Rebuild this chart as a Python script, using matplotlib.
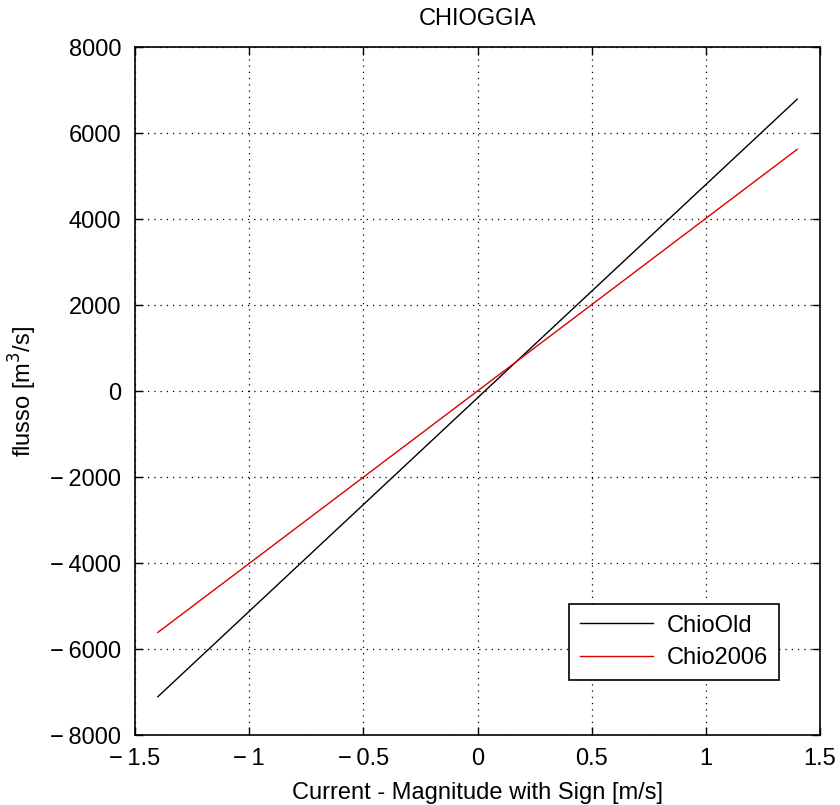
import matplotlib
matplotlib.use("Agg")
import matplotlib.pyplot as plt
from matplotlib.ticker import FuncFormatter

# Data
x = [-1.4, 0.0, 1.4]
chio_old = [-7110, -160, 6785]
chio_2006 = [-5615, 0, 5620]

xticks = [-1.5, -1, -0.5, 0, 0.5, 1, 1.5]
yticks = [-8000, -6000, -4000, -2000, 0, 2000, 4000, 6000, 8000]

plt.rcParams['font.family'] = ['Liberation Sans', 'DejaVu Sans']
FS = 17

fig = plt.figure(figsize=(8.4, 8.05), dpi=100)
ax = fig.add_axes([135/840, 70/805, 685/840, 688/805])

ax.plot(x, chio_old, color='black', lw=1.0, label='ChioOld')
ax.plot(x, chio_2006, color='#dd0000', lw=1.0, label='Chio2006')

ax.set_xlim(-1.5, 1.5)
ax.set_ylim(-8000, 8000)
ax.set_xticks(xticks)
ax.set_yticks(yticks)

def fmt(v, pos):
    s = ('%g' % v)
    return s.replace('-', '\u2212\u2009') if v < 0 else s

ax.xaxis.set_major_formatter(FuncFormatter(fmt))
ax.yaxis.set_major_formatter(FuncFormatter(fmt))

ax.grid(True, color='black', linestyle=(0, (1, 4)), linewidth=0.9)
ax.tick_params(direction='in', top=True, right=True, length=6, width=1.0,
               labelsize=FS)
ax.tick_params(axis='y', pad=10)
ax.tick_params(axis='x', pad=9)
for sp in ax.spines.values():
    sp.set_linewidth(1.2)

ax.set_title('CHIOGGIA', fontsize=FS, pad=16)
ax.set_xlabel('Current - Magnitude with Sign [m/s]', fontsize=FS, labelpad=9)
ax.set_ylabel('flusso [m$^3$/s]', fontsize=FS, labelpad=8)

leg = ax.legend(loc='lower right', bbox_to_anchor=(0.940, 0.080), fontsize=FS,
                fancybox=False, framealpha=1, edgecolor='black',
                handlelength=3.1, handletextpad=0.6, borderpad=0.45,
                labelspacing=0.45, borderaxespad=0)
leg.get_frame().set_linewidth(1.2)

fig.savefig('out.png', dpi=100)
